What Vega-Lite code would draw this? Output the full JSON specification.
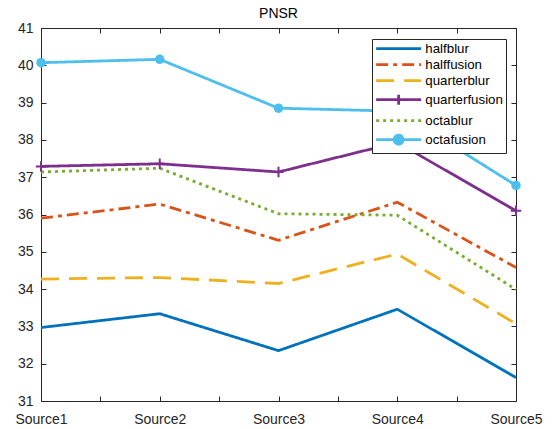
{
  "$schema": "https://vega.github.io/schema/vega-lite/v6.json",
  "width": 475,
  "height": 373,
  "autosize": "none",
  "padding": {"left": 41, "top": 28, "right": 39, "bottom": 28},
  "background": "white",
  "title": {"text": "PNSR", "fontSize": 14, "fontWeight": "normal", "font": "Liberation Sans", "color": "#000000", "offset": 0},
  "data": {
    "values": [
      {"series": "halfblur", "pos": 1, "value": 32.97},
      {"series": "halfblur", "pos": 2, "value": 33.34},
      {"series": "halfblur", "pos": 3, "value": 32.35},
      {"series": "halfblur", "pos": 4, "value": 33.46},
      {"series": "halfblur", "pos": 5, "value": 31.63},
      {"series": "halffusion", "pos": 1, "value": 35.9},
      {"series": "halffusion", "pos": 2, "value": 36.28},
      {"series": "halffusion", "pos": 3, "value": 35.31},
      {"series": "halffusion", "pos": 4, "value": 36.33},
      {"series": "halffusion", "pos": 5, "value": 34.58},
      {"series": "quarterblur", "pos": 1, "value": 34.27},
      {"series": "quarterblur", "pos": 2, "value": 34.31},
      {"series": "quarterblur", "pos": 3, "value": 34.15},
      {"series": "quarterblur", "pos": 4, "value": 34.94},
      {"series": "quarterblur", "pos": 5, "value": 33.07},
      {"series": "quarterfusion", "pos": 1, "value": 37.29},
      {"series": "quarterfusion", "pos": 2, "value": 37.36},
      {"series": "quarterfusion", "pos": 3, "value": 37.14},
      {"series": "quarterfusion", "pos": 4, "value": 37.93},
      {"series": "quarterfusion", "pos": 5, "value": 36.1},
      {"series": "octablur", "pos": 1, "value": 37.14},
      {"series": "octablur", "pos": 2, "value": 37.24},
      {"series": "octablur", "pos": 3, "value": 36.02},
      {"series": "octablur", "pos": 4, "value": 35.98},
      {"series": "octablur", "pos": 5, "value": 33.99},
      {"series": "octafusion", "pos": 1, "value": 40.07},
      {"series": "octafusion", "pos": 2, "value": 40.16},
      {"series": "octafusion", "pos": 3, "value": 38.85},
      {"series": "octafusion", "pos": 4, "value": 38.77},
      {"series": "octafusion", "pos": 5, "value": 36.78}
    ]
  },
  "layer": [
    {
      "mark": {"type": "line", "strokeWidth": 2.8},
      "encoding": {
        "x": {
          "field": "pos", "type": "quantitative",
          "scale": {"domain": [1, 5], "nice": false, "zero": false},
          "axis": {"orient": "bottom", "values": [1, 1.5, 2, 2.5, 3, 3.5, 4, 4.5, 5], "labelExpr": "datum.value % 1 === 0 ? 'Source' + datum.value : ''", "title": null, "tickSize": -5, "labelPadding": 16, "labelFlush": false, "labelOverlap": false}
        },
        "y": {
          "field": "value", "type": "quantitative",
          "scale": {"domain": [31, 41], "nice": false, "zero": false},
          "axis": {"orient": "left", "values": [31, 32, 33, 34, 35, 36, 37, 38, 39, 40, 41], "title": null, "tickSize": -5, "labelPadding": 13, "labelOverlap": false}
        },
        "color": {
          "field": "series", "type": "nominal",
          "scale": {"domain": ["halfblur", "halffusion", "quarterblur", "quarterfusion", "octablur", "octafusion"], "range": ["#0072BD", "#D95319", "#EDB120", "#7E2F8E", "#77AC30", "#4DBEEE"]},
          "legend": {
            "title": null, "orient": "none", "legendX": 331, "legendY": 11, "direction": "vertical",
            "fillColor": "white", "strokeColor": "#262626", "padding": 3,
            "labelFont": "Liberation Sans", "labelFontSize": 13.3, "labelColor": "#000000",
            "symbolType": "M-4.5,0H4.5", "symbolSize": 100, "symbolStrokeWidth": 2.8,
            "rowPadding": 2, "symbolOffset": 17, "labelOffset": 20,
            "encode": {
              "symbols": {
                "update": {
                  "shape": {"signal": "datum.value === 'octafusion' ? 'M-4.5,0H4.5M0.9,0A0.9,0.9 0 1,1 -0.9,0A0.9,0.9 0 1,1 0.9,0Z' : (datum.value === 'quarterfusion' ? 'M-4.5,0H4.5M0,-1V1' : 'M-4.5,0H4.5')"},
                  "fill": {"signal": "datum.value === 'octafusion' ? '#4DBEEE' : 'transparent'"}
                }
              }
            }
          }
        },
        "strokeDash": {
          "field": "series", "type": "nominal",
          "scale": {"domain": ["halfblur", "halffusion", "quarterblur", "quarterfusion", "octablur", "octafusion"], "range": [[1, 0], [12, 5, 4, 5], [18, 10], [1, 0], [3, 4], [1, 0]]}
        }
      }
    },
    {
      "transform": [{"filter": "datum.series === 'quarterfusion'"}],
      "mark": {"type": "point", "shape": "M-1,0H1M0,-1V1", "size": 110, "strokeWidth": 2, "color": "#7E2F8E", "filled": false, "opacity": 1},
      "encoding": {
        "x": {"field": "pos", "type": "quantitative", "axis": null},
        "y": {"field": "value", "type": "quantitative", "axis": null}
      }
    },
    {
      "transform": [{"filter": "datum.series === 'octafusion'"}],
      "mark": {"type": "point", "shape": "circle", "size": 90, "filled": true, "color": "#4DBEEE", "opacity": 1},
      "encoding": {
        "x": {"field": "pos", "type": "quantitative", "axis": {"orient": "top", "values": [1, 1.5, 2, 2.5, 3, 3.5, 4, 4.5, 5], "labels": false, "title": null, "tickSize": -5}},
        "y": {"field": "value", "type": "quantitative", "axis": {"orient": "right", "values": [31, 32, 33, 34, 35, 36, 37, 38, 39, 40, 41], "labels": false, "title": null, "tickSize": -5}}
      }
    }
  ],
  "resolve": {"axis": {"x": "independent", "y": "independent"}},
  "config": {
    "view": {"stroke": null},
    "axis": {"grid": false, "domainColor": "#262626", "tickColor": "#262626", "domainWidth": 1, "tickWidth": 1, "labelFont": "Liberation Sans", "labelFontSize": 14, "labelColor": "#262626"}
  }
}
